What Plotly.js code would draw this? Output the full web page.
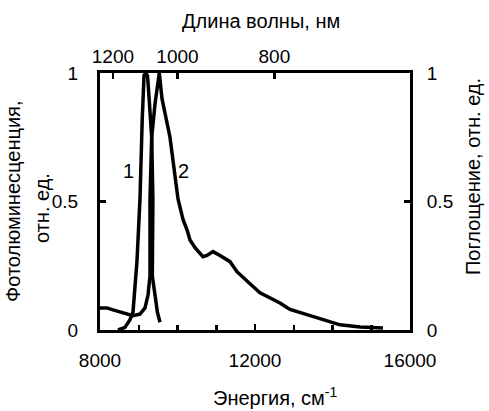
<!DOCTYPE html>
<html>
<head>
<meta charset="utf-8">
<script src="https://cdn.plot.ly/plotly-3.0.1.min.js"></script>
<style>html,body{margin:0;padding:0;background:#fff;}#chart{width:489px;height:411px;}</style>
</head>
<body>
<div id="chart"></div>
<script>
// Curve 1: photoluminescence (left axis)
const plEnergy = [8465, 8645, 8774, 8852, 8955, 9032, 9090, 9136, 9175, 9225, 9250, 9290, 9334, 9365, 9355, 9350, 9420, 9480, 9548];
const plValue  = [0, 0.01, 0.04, 0.07, 0.27, 0.51, 0.82, 0.99, 1.0, 0.99, 0.94, 0.86, 0.75, 0.51, 0.30, 0.21, 0.136, 0.07, 0.03];

// Curve 2: absorption (right axis)
const absEnergy = [8000, 8181, 8335, 8516, 8697, 8852, 9032, 9161, 9239, 9290, 9290, 9334, 9420, 9505, 9530, 9600, 9806, 10013, 10142, 10245, 10323, 10452, 10581, 10658, 10761, 10916, 11097, 11355, 11535, 11742, 11871, 12129, 12387, 12645, 12903, 13161, 13600, 13935, 14194, 14710, 15303];
const absValue  = [0.086, 0.086, 0.078, 0.07, 0.062, 0.056, 0.062, 0.086, 0.136, 0.21, 0.51, 0.75, 0.88, 0.98, 1.0, 0.90, 0.75, 0.51, 0.43, 0.39, 0.35, 0.32, 0.30, 0.285, 0.29, 0.305, 0.29, 0.266, 0.227, 0.20, 0.18, 0.145, 0.125, 0.105, 0.08, 0.068, 0.045, 0.03, 0.02, 0.012, 0.008];

// Tick labels
const energyTicks = [8000, 12000, 16000];
const energyTickText = ['8000', '12000', '16000'];
const wavelengthTicks = [1200, 1000, 800];
const yTicks = [0, 0.5, 1];
const yTickText = ['0', '0.5', '1'];
const curveLabels = ['1', '2'];

const FONT = 'Liberation Sans, Arial, sans-serif';

const traces = [
  {x: plEnergy, y: plValue, mode: 'lines', line: {color: '#000', width: 3.5}, xaxis: 'x', yaxis: 'y', hoverinfo: 'skip'},
  {x: absEnergy, y: absValue, mode: 'lines', line: {color: '#000', width: 3.5}, xaxis: 'x2', yaxis: 'y2', hoverinfo: 'skip'}
];

const axisCommon = {
  showgrid: false, zeroline: false, showline: true, linecolor: '#000', linewidth: 3,
  ticks: 'inside', tickcolor: '#000', tickwidth: 2.5, ticklen: 6,
  tickfont: {family: FONT, size: 19, color: '#000'}
};

const layout = {
  width: 489, height: 411,
  margin: {l: 100, r: 79, t: 73, b: 81, pad: 0},
  paper_bgcolor: '#fff', plot_bgcolor: '#fff',
  showlegend: false,
  font: {family: FONT, color: '#000'},
  xaxis: Object.assign({}, axisCommon, {
    range: [8000, 16000], tickmode: 'array', tickvals: energyTicks, ticktext: energyTickText,
    ticklabelstandoff: 11,
    minor: {dtick: 1000, tick0: 8000, ticks: 'inside', ticklen: 5, tickwidth: 2.5, tickcolor: '#000', showgrid: false}
  }),
  xaxis2: Object.assign({}, axisCommon, {
    overlaying: 'x', side: 'top', anchor: 'y2', range: [8000, 16000], tickmode: 'array',
    tickvals: wavelengthTicks.map(w => 1e7 / w), ticktext: wavelengthTicks.map(String),
    ticklabelstandoff: -1
  }),
  yaxis: Object.assign({}, axisCommon, {
    range: [0, 1], tickmode: 'array', tickvals: yTicks, ticktext: yTickText, ticklabelstandoff: 15
  }),
  yaxis2: Object.assign({}, axisCommon, {
    overlaying: 'y', side: 'right', anchor: 'x2', range: [0, 1], tickmode: 'array', tickvals: yTicks, ticktext: yTickText,
    ticklabelstandoff: 10
  }),
  annotations: [
    {text: 'Длина волны, нм', xref: 'paper', yref: 'paper', x: (261 - 100) / 310, y: (330 - 21) / 257, xanchor: 'center', yanchor: 'middle', showarrow: false, font: {family: FONT, size: 20, color: '#000'}},
    {text: 'Энергия, см<sup>-1</sup>', xref: 'paper', yref: 'paper', x: (275 - 100) / 310, y: (330 - 396) / 257, xanchor: 'center', yanchor: 'middle', showarrow: false, font: {family: FONT, size: 20, color: '#000'}},
    {text: 'Фотолюминесценция,', xref: 'paper', yref: 'paper', x: (13 - 100) / 310, y: (330 - 202) / 257, xanchor: 'center', yanchor: 'middle', textangle: -90, showarrow: false, font: {family: FONT, size: 20, color: '#000'}},
    {text: 'отн. ед.', xref: 'paper', yref: 'paper', x: (42 - 100) / 310, y: (330 - 208) / 257, xanchor: 'center', yanchor: 'middle', textangle: -90, showarrow: false, font: {family: FONT, size: 20, color: '#000'}},
    {text: 'Поглощение, отн. ед.', xref: 'paper', yref: 'paper', x: (473 - 100) / 310, y: (330 - 177) / 257, xanchor: 'center', yanchor: 'middle', textangle: -90, showarrow: false, font: {family: FONT, size: 20, color: '#000'}},
    {text: curveLabels[0], xref: 'x', yref: 'y', x: 8735, y: 0.62, xanchor: 'center', yanchor: 'middle', showarrow: false, font: {family: FONT, size: 20, color: '#000'}},
    {text: curveLabels[1], xref: 'x', yref: 'y', x: 10142, y: 0.62, xanchor: 'center', yanchor: 'middle', showarrow: false, font: {family: FONT, size: 20, color: '#000'}}
  ]
};

Plotly.newPlot('chart', traces, layout, {staticPlot: true, displayModeBar: false});
</script>
</body>
</html>
